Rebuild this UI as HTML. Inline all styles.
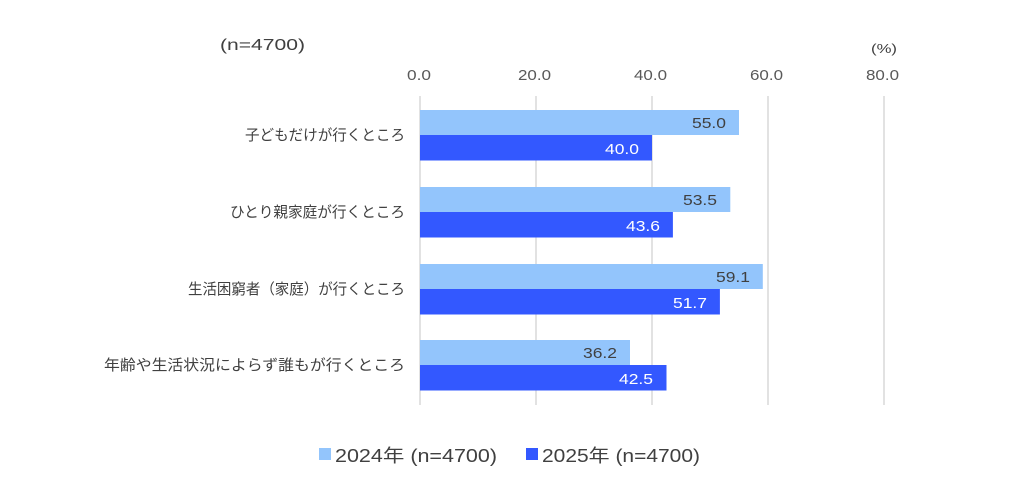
<!DOCTYPE html>
<html><head><meta charset="utf-8"><style>
body{margin:0;background:#fff;}
svg text{font-family:"Liberation Sans","Noto Sans CJK JP",sans-serif;}
</style></head><body>
<svg width="1019" height="490" xmlns="http://www.w3.org/2000/svg">
<rect width="1019" height="490" fill="#fff"/>
<text x="220" y="50" font-size="16" fill="#404040" textLength="85" lengthAdjust="spacingAndGlyphs">(n=4700)</text>
<text x="871" y="53" font-size="13" fill="#404040" textLength="26" lengthAdjust="spacingAndGlyphs">(%)</text>
<g font-size="15" fill="#595959">
<text x="407" y="80" textLength="24" lengthAdjust="spacingAndGlyphs">0.0</text>
<text x="518" y="80" textLength="33" lengthAdjust="spacingAndGlyphs">20.0</text>
<text x="634" y="80" textLength="33" lengthAdjust="spacingAndGlyphs">40.0</text>
<text x="750" y="80" textLength="33" lengthAdjust="spacingAndGlyphs">60.0</text>
<text x="866" y="80" textLength="33" lengthAdjust="spacingAndGlyphs">80.0</text>
</g>
<g stroke="#d9d9d9" stroke-width="1.5">
<line x1="420" y1="96" x2="420" y2="405"/><line x1="536" y1="96" x2="536" y2="405"/><line x1="652" y1="96" x2="652" y2="405"/><line x1="768" y1="96" x2="768" y2="405"/><line x1="884" y1="96" x2="884" y2="405"/>
</g>
<g fill="#93c5fc">
<rect x="420" y="110" width="319" height="25"/>
<rect x="420" y="187" width="310.3" height="25"/>
<rect x="420" y="264" width="342.8" height="25"/>
<rect x="420" y="340" width="210" height="25"/>
</g>
<g fill="#3358ff">
<rect x="420" y="135" width="232" height="25.5"/>
<rect x="420" y="212" width="252.9" height="25.5"/>
<rect x="420" y="289" width="299.9" height="25.5"/>
<rect x="420" y="365" width="246.5" height="25.5"/>
</g>
<g font-size="15" fill="#404040">
<text x="692" y="128" textLength="34" lengthAdjust="spacingAndGlyphs">55.0</text>
<text x="683" y="205" textLength="34" lengthAdjust="spacingAndGlyphs">53.5</text>
<text x="716" y="282" textLength="34" lengthAdjust="spacingAndGlyphs">59.1</text>
<text x="583" y="358" textLength="34" lengthAdjust="spacingAndGlyphs">36.2</text>
</g>
<g font-size="15" fill="#fff">
<text x="605" y="154" textLength="34" lengthAdjust="spacingAndGlyphs">40.0</text>
<text x="626" y="231" textLength="34" lengthAdjust="spacingAndGlyphs">43.6</text>
<text x="673" y="308" textLength="34" lengthAdjust="spacingAndGlyphs">51.7</text>
<text x="619" y="384" textLength="34" lengthAdjust="spacingAndGlyphs">42.5</text>
</g>
<g font-size="15" fill="#404040">
<text x="245" y="140" textLength="160" lengthAdjust="spacingAndGlyphs">子どもだけが行くところ</text>
<text x="230" y="217" textLength="175" lengthAdjust="spacingAndGlyphs">ひとり親家庭が行くところ</text>
<text x="188" y="294" textLength="217" lengthAdjust="spacingAndGlyphs">生活困窮者（家庭）が行くところ</text>
<text x="104" y="370" textLength="301" lengthAdjust="spacingAndGlyphs">年齢や生活状況によらず誰もが行くところ</text>
</g>
<rect x="319" y="448" width="12" height="12" fill="#93c5fc"/>
<text x="335" y="462" font-size="18" fill="#404040" textLength="162" lengthAdjust="spacingAndGlyphs">2024年 (n=4700)</text>
<rect x="526" y="448" width="12" height="12" fill="#3358ff"/>
<text x="542" y="462" font-size="18" fill="#404040" textLength="158" lengthAdjust="spacingAndGlyphs">2025年 (n=4700)</text>
</svg>
</body></html>
